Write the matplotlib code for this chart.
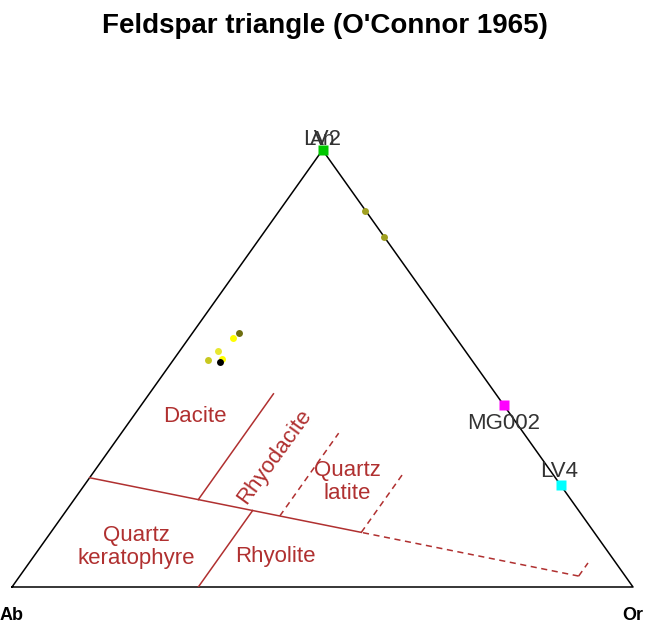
import numpy as np
import matplotlib
matplotlib.use("Agg")
import matplotlib.pyplot as plt

plt.rcParams['font.family'] = ['Liberation Sans', 'DejaVu Sans']


# data (normative feldspar, %) ----------------------------------------------

names  = ["LV2", "MG002", "LV4", "", "", "", "", "", "", "", ""]
An     = [100.0, 41.7, 23.3, 86.0, 80.1, 58.2, 56.9, 54.1, 51.9, 52.1, 51.6]
Or     = [0.0, 58.3, 76.7, 13.8, 19.9, 7.4, 7.1, 6.2, 5.6, 7.7, 7.7]
Ab     = [100 - a - o for a, o in zip(An, Or)]
colors = ["#00c800", "#ff00ff", "#00ffff", "#a0a020", "#a0a020",
          "#6e6e10", "#ffff00", "#e8e830", "#c8c820", "#ffff00", "#000000"]
symbols = ["s", "s", "s", "o", "o", "o", "o", "o", "o", "o", "o"]

# field boundaries (An, Or in %) --------------------------------------------
bound_An = [[25.0, 12.5], [2.5, 12.5], [20.0, 44.2], [17.5, 0.0],
            [16.25, 35.2], [12.5, 26.4], [2.5, 5.5]]
bound_Or = [[0.0, 50.0], [90.0, 50.0], [20.0, 20.0], [30.0, 30.0],
            [35.0, 35.0], [50.0, 50.0], [90.0, 90.0]]
bound_dash = [False, True, False, False, True, True, True]


def tern(an, orr):
    an = np.asarray(an) / 100.0
    orr = np.asarray(orr) / 100.0
    return orr + an / 2, an


# figure --------------------------------------------------------------------
fig = plt.figure(figsize=(6.46, 6.23), dpi=100)
ax = fig.add_axes([12 / 646, 36 / 623, 621 / 646, 437 / 623])
ax.set_xlim(0, 1)
ax.set_ylim(0, 1)
ax.axis("off")

# triangle
ax.plot([0, 1, 0.5, 0], [0, 0, 1, 0], color="black", lw=1.1, clip_on=False)

red = "#b03030"
for a, o, d in zip(bound_An, bound_Or, bound_dash):
    x, y = tern(a, o)
    ax.plot(x, y, color=red, lw=1.1, linestyle=(0, (4, 3)) if d else "-")

# field names
fkw = dict(color=red, fontsize=16, ha="center", va="center")
for txt, a, o, rot in [("Dacite", 39.0, 10.0, 0),
                       ("Rhyodacite", 29.8, 27.4, 54),
                       ("Quartz\nlatite", 24.0, 42.0, 0),
                       ("Quartz\nkeratophyre", 9.2, 15.4, 0),
                       ("Rhyolite", 6.9, 39.0, 0)]:
    x, y = tern(a, o)
    ax.text(x, y, txt, rotation=rot, linespacing=1.1, **fkw)

# samples
for n, a, o, c, m in zip(names, An, Or, colors, symbols):
    x, y = tern(a, o)
    if m == "s":
        ax.plot(x, y, marker="s", ms=7, color=c, mec="none", clip_on=False, zorder=5)
    else:
        ax.plot(x, y, marker="o", ms=5, color=c, mec="none", clip_on=False, zorder=5)

# sample labels
ax.text(*tern(100, 0), "LV2", fontsize=16, color="#333333", ha="center",
        va="bottom")
ax.annotate("MG002", tern(41.7, 58.3), xytext=(0, -6), textcoords="offset points",
            ha="center", va="top", fontsize=16, color="#333333")
ax.annotate("LV4", tern(23.3, 76.7), xytext=(-1, 2), textcoords="offset points",
            ha="center", va="bottom", fontsize=16, color="#333333")

# apices
ax.text(0.5, 1.0 + 1 / 437, "An", fontsize=15, color="#333333", ha="center", va="bottom")
ax.text(0.0, -29 / 437, "Ab", fontsize=13, fontweight="bold", ha="center", va="center")
ax.text(1.0, -29 / 437, "Or", fontsize=13, fontweight="bold", ha="center", va="center")

fig.text(0.503, 1 - 26 / 623, "Feldspar triangle (O'Connor 1965)",
         fontsize=20, fontweight="bold", ha="center", va="center")

fig.savefig("out.png", dpi=100)
